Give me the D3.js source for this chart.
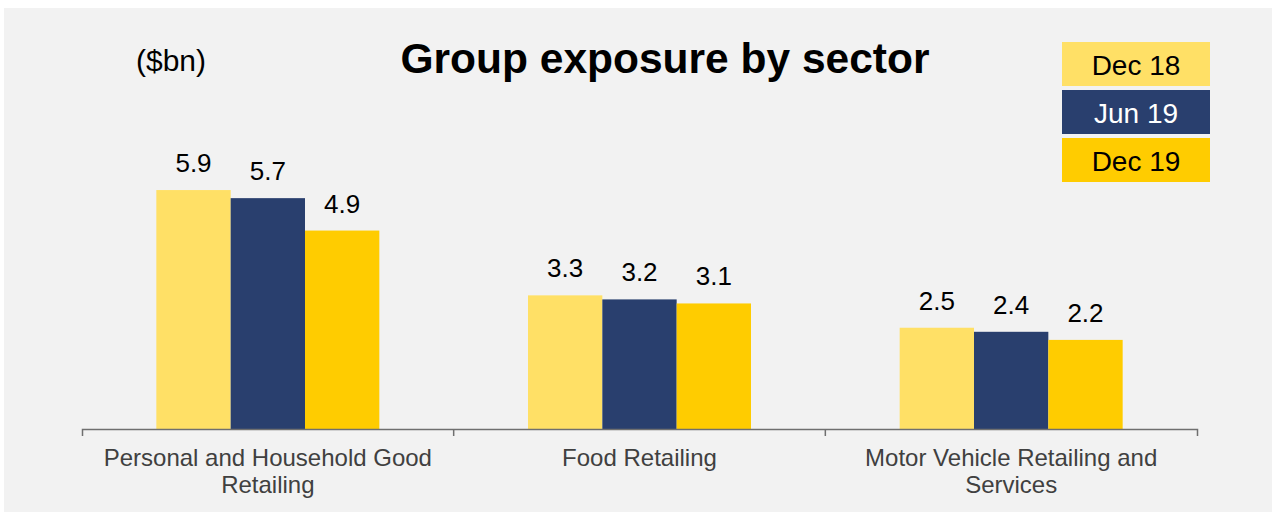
<!DOCTYPE html>
<html>
<head>
<meta charset="utf-8">
<script src="https://cdn.jsdelivr.net/npm/d3@7"></script>
<style>
  body { margin: 0; background: #fff; }
  svg text { font-family: "Liberation Sans", Arial, sans-serif; }
</style>
</head>
<body>
<svg id="chart"></svg>
<script>
// data
const categories = ['Personal and Household Good Retailing', 'Food Retailing', 'Motor Vehicle Retailing and Services'];
const seriesNames = ['Dec 18', 'Jun 19', 'Dec 19'];
const dec18 = [5.9, 3.3, 2.5];
const jun19 = [5.7, 3.2, 2.4];
const dec19 = [4.9, 3.1, 2.2];
const seriesColors = ['#FFE066', '#293F6E', '#FFCC00'];
const legendTextColors = ['#000', '#fff', '#000'];

const seriesValues = [dec18, jun19, dec19];
const data = categories.map((c, i) => ({
  name: c,
  values: seriesNames.map((s, j) => ({series: s, value: seriesValues[j][i]}))
}));

const width = 1272, height = 512;
const svg = d3.select('#chart').attr('width', width).attr('height', height);

svg.append('rect')
  .attr('x', 4).attr('y', 8)
  .attr('width', width - 4).attr('height', height - 8)
  .attr('fill', '#f2f2f2');

const baseY = 429;

const x0 = d3.scaleBand()
  .domain(categories)
  .range([82, 1197]);

const x1 = d3.scaleBand()
  .domain(seriesNames)
  .range([x0.bandwidth() * 0.2, x0.bandwidth() * 0.8]);

const yScale = d3.scaleLinear()
  .domain([0, 7])
  .range([baseY, baseY - 7 * 40.5]);

const color = d3.scaleOrdinal().domain(seriesNames).range(seriesColors);

// bars
const groups = svg.selectAll('.group')
  .data(data)
  .join('g')
  .attr('class', 'group')
  .attr('transform', d => `translate(${x0(d.name)},0)`);

groups.selectAll('rect')
  .data(d => d.values)
  .join('rect')
  .attr('x', d => x1(d.series))
  .attr('y', d => yScale(d.value))
  .attr('width', x1.bandwidth())
  .attr('height', d => baseY - yScale(d.value))
  .attr('fill', d => color(d.series));

groups.selectAll('.val')
  .data(d => d.values)
  .join('text')
  .attr('class', 'val')
  .attr('x', d => x1(d.series) + x1.bandwidth() / 2)
  .attr('y', d => yScale(d.value) - 18)
  .attr('text-anchor', 'middle')
  .attr('font-size', 26)
  .attr('fill', '#000')
  .text(d => d.value.toFixed(1));

// axis
const xAxis = d3.axisBottom(x0).tickSize(0).tickSizeOuter(7).tickFormat('');
const axisG = svg.append('g')
  .attr('transform', `translate(0,${baseY})`)
  .call(xAxis);
axisG.select('.domain').attr('stroke', '#6f6f6f').attr('stroke-width', 1.5);

// inner boundary ticks
axisG.selectAll('.sep')
  .data(categories.slice(1))
  .join('line')
  .attr('class', 'sep')
  .attr('x1', d => x0(d)).attr('x2', d => x0(d))
  .attr('y1', 0).attr('y2', 7)
  .attr('stroke', '#6f6f6f').attr('stroke-width', 1.5);

// category labels, wrapped
const catLabels = svg.selectAll('.cat')
  .data(categories)
  .join('text')
  .attr('class', 'cat')
  .attr('text-anchor', 'middle')
  .attr('font-size', 24)
  .attr('fill', '#404040')
  .attr('y', 466);

catLabels.each(function(d) {
  const t = d3.select(this);
  const cx = x0(d) + x0.bandwidth() / 2;
  const words = d.split(' ');
  let line = [];
  let lineNo = 0;
  let tspan = t.append('tspan').attr('x', cx).attr('y', 466);
  words.forEach(w => {
    line.push(w);
    tspan.text(line.join(' '));
    if (tspan.node().getComputedTextLength() > 350 && line.length > 1) {
      line.pop();
      tspan.text(line.join(' '));
      line = [w];
      lineNo++;
      tspan = t.append('tspan').attr('x', cx).attr('y', 466 + lineNo * 27).text(w);
    }
  });
});

// title and unit
svg.append('text')
  .attr('x', 665).attr('y', 73)
  .attr('text-anchor', 'middle')
  .attr('font-size', 42.5)
  .attr('font-weight', 'bold')
  .attr('fill', '#000')
  .text('Group exposure by sector');

svg.append('text')
  .attr('x', 171).attr('y', 71)
  .attr('text-anchor', 'middle')
  .attr('font-size', 30)
  .attr('fill', '#000')
  .text('($bn)');

// legend
const legend = svg.selectAll('.legend')
  .data(seriesNames)
  .join('g')
  .attr('class', 'legend')
  .attr('transform', (d, i) => `translate(1062,${42 + i * 48})`);

legend.append('rect')
  .attr('width', 148).attr('height', 44)
  .attr('fill', d => color(d));

legend.append('text')
  .attr('x', 74).attr('y', 33)
  .attr('text-anchor', 'middle')
  .attr('font-size', 28)
  .attr('fill', (d, i) => legendTextColors[i])
  .text(d => d);
</script>
</body>
</html>
